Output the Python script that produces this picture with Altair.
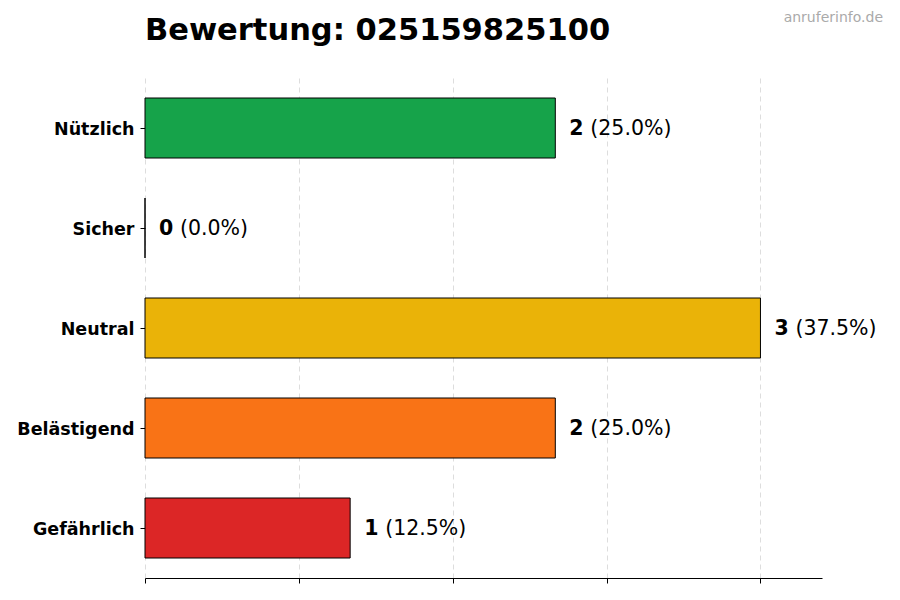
import altair as alt
import pandas as pd

categories = ["Nützlich", "Sicher", "Neutral", "Belästigend", "Gefährlich"]
counts = [2, 0, 3, 2, 1]
colors = ["#16a34a", "#9ca3af", "#eab308", "#f97316", "#dc2626"]
x_ticks = [0, 0.75, 1.5, 2.25, 3.0]

total = sum(counts)
df = pd.DataFrame({
    "Kategorie": categories,
    "Anzahl": counts,
    "Farbe": colors,
    "Prozent": [f"({c / total * 100:.1f}%)" for c in counts],
})

y_enc = alt.Y(
    "Kategorie:N",
    sort=categories,
    title=None,
    scale=alt.Scale(paddingInner=0.4, paddingOuter=0.2),
    axis=alt.Axis(
        domain=False, ticks=True, tickSize=5, tickColor="black",
        labelFont="DejaVu Sans", labelFontSize=17.5, labelFontWeight="bold",
        labelColor="black", labelPadding=6, labelOffset=1.5, grid=False,
    ),
)
x_enc = alt.X(
    "Anzahl:Q",
    title=None,
    scale=alt.Scale(domain=[0, 3.3], nice=False, zero=True),
    axis=alt.Axis(
        values=x_ticks, labels=False, domain=True, domainColor="black",
        domainWidth=1, ticks=True, tickColor="black", tickSize=5,
        grid=True, gridDash=[5, 4], gridColor="#d4d4d4", gridWidth=0.8,
    ),
)

base = alt.Chart(df)

bars = base.mark_bar(stroke="black", strokeWidth=1).encode(
    y=y_enc,
    x=x_enc,
    color=alt.Color("Farbe:N", scale=None),
)

count_text = base.mark_text(
    align="left", baseline="middle", dx=14, dy=1,
    font="DejaVu Sans", fontSize=20.5, fontWeight="bold", color="black",
).encode(
    y=alt.Y("Kategorie:N", sort=categories),
    x="Anzahl:Q",
    text="Anzahl:Q",
)

pct_text = base.mark_text(
    align="left", baseline="middle", dx=35, dy=1,
    font="DejaVu Sans", fontSize=20.5, color="black",
).encode(
    y=alt.Y("Kategorie:N", sort=categories),
    x="Anzahl:Q",
    text="Prozent:N",
)

labels = pd.DataFrame({"t": ["anruferinfo.de"], "titel": ["Bewertung: 025159825100"]})

watermark = alt.Chart(labels).mark_text(
    align="right", baseline="alphabetic",
    font="DejaVu Sans", fontSize=14, color="#aaaaaa",
).encode(
    x=alt.value(738),
    y=alt.value(-56),
    text="t:N",
)

title = alt.Chart(labels).mark_text(
    align="left", baseline="alphabetic",
    font="DejaVu Sans", fontSize=30.5, fontWeight="bold", color="black",
).encode(
    x=alt.value(0),
    y=alt.value(-38),
    text="titel:N",
)

chart = (bars + count_text + pct_text + watermark + title).properties(
    width=677,
    height=500,
    autosize=alt.AutoSizeParams(type="none"),
    padding={"left": 137, "top": 70, "right": 70, "bottom": 14},
    background="white",
).configure_view(
    stroke=None
)

chart.save("out.html", embed_options={"renderer": "svg", "actions": False})
